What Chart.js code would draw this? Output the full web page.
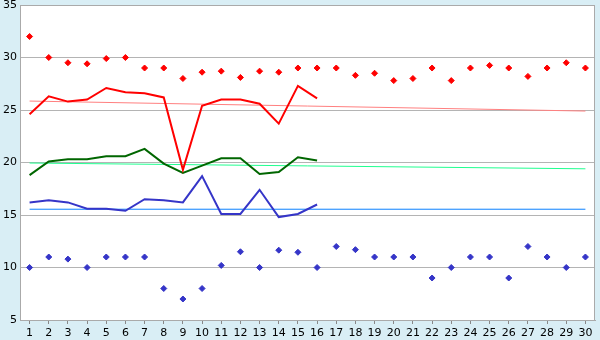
<!DOCTYPE html>
<html>
<head>
<meta charset="utf-8">
<script src="https://cdn.jsdelivr.net/npm/chart.js@4"></script>
<style>
  html, body { margin: 0; padding: 0; background: #d9eef5; }
  #wrap { width: 600px; height: 340px; }
</style>
</head>
<body>
<div id="wrap"><canvas id="chart" width="600" height="340"></canvas></div>
<script>
// Days of the month
const days = Array.from({ length: 30 }, (_, i) => String(i + 1));

// Daily highs / lows (points)
const maxPoints = [32, 30, 29.5, 29.4, 29.9, 30, 29, 29, 28, 28.6, 28.7, 28.1, 28.7, 28.6, 29, 29,
                   29, 28.3, 28.5, 27.8, 28, 29, 27.8, 29, 29.25, 29, 28.2, 29, 29.5, 29];
const minPoints = [10, 11, 10.8, 10, 11, 11, 11, 8, 7, 8, 10.2, 11.5, 10, 11.65, 11.45, 10,
                   12, 11.7, 11, 11, 11, 9, 10, 11, 11, 9, 12, 11, 10, 11];

// Lines (first 16 days)
const redLine   = [24.6, 26.3, 25.8, 26, 27.1, 26.7, 26.6, 26.2, 19.3, 25.4, 26, 26, 25.6, 23.7, 27.3, 26.1];
const greenLine = [18.8, 20.1, 20.3, 20.3, 20.6, 20.6, 21.3, 19.9, 19, 19.7, 20.4, 20.4, 18.9, 19.1, 20.5, 20.2];
const blueLine  = [16.2, 16.4, 16.2, 15.6, 15.6, 15.4, 16.5, 16.4, 16.2, 18.7, 15.1, 15.1, 17.4, 14.8, 15.1, 16];

// Trend lines (values at day 1 and day 30)
const redTrend   = [25.85, 24.9];
const greenTrend = [19.95, 19.4];
const blueTrend  = [15.55, 15.55];

const yTicks = [5, 10, 15, 20, 25, 30, 35];

function trend(ends) {
  return days.map((d, i) => i === 0 ? ends[0] : (i === days.length - 1 ? ends[1] : null));
}

const plotBg = {
  id: 'plotBg',
  beforeDraw(chart) {
    const { ctx, chartArea: a } = chart;
    ctx.save();
    ctx.fillStyle = '#ffffff';
    ctx.fillRect(a.left, a.top, a.right - a.left, a.bottom - a.top);
    ctx.restore();
  },
  afterDraw(chart) {
    const { ctx, chartArea: a } = chart;
    ctx.save();
    ctx.strokeStyle = '#aaaaaa';
    ctx.lineWidth = 1;
    ctx.strokeRect(a.left + 0.5, a.top + 0.5, a.right - a.left - 1, a.bottom - a.top);
    ctx.restore();
  }
};

const lineDs = (data, color) => ({
  data, borderColor: color, backgroundColor: color, borderWidth: 2,
  pointRadius: 0, tension: 0, fill: false
});
const trendDs = (ends, color) => ({
  data: trend(ends), borderColor: color, borderWidth: 1,
  pointRadius: 0, spanGaps: true, fill: false
});
const pointDs = (data, color) => ({
  data, showLine: false, borderColor: color, backgroundColor: color,
  pointStyle: 'rectRot', pointRadius: 3, pointBorderWidth: 1
});

new Chart(document.getElementById('chart'), {
  type: 'line',
  data: {
    labels: days,
    datasets: [
      lineDs(redLine, '#ff0000'),
      lineDs(greenLine, '#006600'),
      lineDs(blueLine, '#3535c8'),
      pointDs(maxPoints, '#ff0000'),
      pointDs(minPoints, '#3535c8'),
      trendDs(redTrend, '#ff8080'),
      trendDs(greenTrend, '#20ff90'),
      trendDs(blueTrend, '#0a80ff')
    ]
  },
  options: {
    responsive: false,
    animation: false,
    layout: { padding: { top: 5, right: 5, left: 0, bottom: 0 } },
    plugins: { legend: { display: false }, tooltip: { enabled: false } },
    scales: {
      x: {
        offset: true,
        grid: { offset: false, drawOnChartArea: false, drawTicks: true, tickLength: 4, color: '#888888' },
        border: { color: '#aaaaaa' },
        ticks: { color: '#000', font: { family: 'DejaVu Sans', size: 11 }, padding: 3, maxRotation: 0, autoSkip: false },
        afterFit: s => { s.height = 20; s.paddingLeft = 0; s.paddingRight = 0; }
      },
      y: {
        min: 5, max: 35,
        afterBuildTicks: s => { s.ticks = yTicks.map(v => ({ value: v })); },
        grid: { color: '#b4b4b4', drawTicks: false },
        border: { color: '#aaaaaa' },
        ticks: { color: '#000', font: { family: 'DejaVu Sans', size: 11 }, padding: 3 },
        afterFit: s => { s.width = 20; s.paddingTop = 0; s.paddingBottom = 0; }
      }
    }
  },
  plugins: [plotBg]
});
</script>
</body>
</html>
